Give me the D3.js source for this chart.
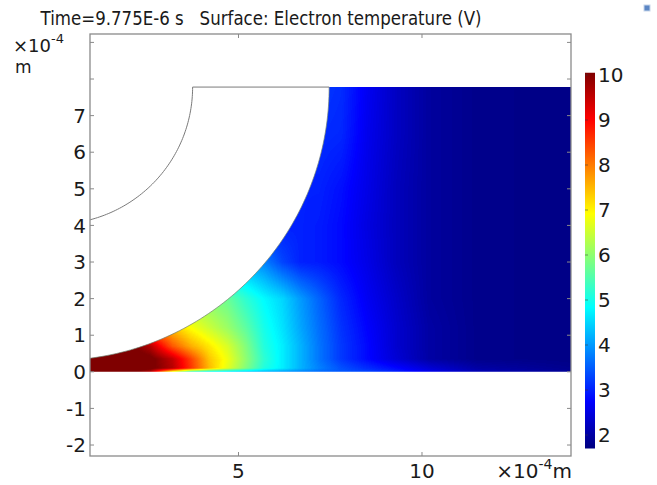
<!DOCTYPE html>
<html>
<head>
<meta charset="utf-8">
<script src="https://cdn.jsdelivr.net/npm/d3@7"></script>
<style>
  body { margin: 0; background: #fff; }
  text { font-family: "DejaVu Sans", sans-serif; fill: #1a1a1a; }
</style>
</head>
<body>
<svg id="chart" width="657" height="485"></svg>
<script>
// Surface values (electron temperature, V)
// grid nodes in x (1e-4 m) and y (1e-4 m)
var gridX = [0.9, 2.0, 2.6, 3.2, 3.7, 4.2, 4.7, 5.2, 5.7, 6.2, 6.7, 7.2, 7.8, 8.5, 9.3, 10.2, 11.5, 14.3];
var gridY = [0, 0.1, 0.35, 0.7, 1.2, 2.0, 3.0, 4.0, 5.0, 6.5, 7.8];

// one row per gridY value
var tempRows = [
  [10.3, 10.3, 9.6, 6.8, 5.3, 4.8, 4.6, 4.4, 4.2, 4.0, 3.8, 3.6, 3.45, 3.3, 3.0, 2.6, 2.15, 1.85],
  [10.3, 10.3, 10.2, 9.6, 8.6, 7.5, 6.7, 5.9, 5.1, 4.7, 4.2, 3.8, 3.4, 3.1, 2.8, 2.4, 2.0, 1.8],
  [10.3, 10.3, 10.2, 9.5, 8.5, 7.4, 6.8, 6.0, 5.2, 4.7, 4.2, 3.7, 3.2, 2.8, 2.4, 2.0, 1.8, 1.75],
  [10.3, 10.3, 9.6, 8.3, 7.6, 7.1, 6.6, 5.9, 5.1, 4.7, 4.2, 3.7, 3.2, 2.8, 2.35, 2.0, 1.8, 1.75],
  [10.0, 9.0, 8.0, 7.4, 6.9, 6.5, 6.1, 5.6, 5.0, 4.6, 4.1, 3.65, 3.15, 2.75, 2.35, 2.0, 1.8, 1.75],
  [6.0, 6.0, 6.0, 6.0, 6.0, 5.9, 5.7, 5.2, 4.8, 4.5, 4.0, 3.55, 3.05, 2.65, 2.3, 1.95, 1.8, 1.75],
  [4.2, 4.2, 4.2, 4.2, 4.2, 4.2, 4.2, 4.1, 3.8, 3.3, 3.0, 2.95, 2.8, 2.55, 2.2, 1.95, 1.8, 1.75],
  [3.0, 3.0, 3.0, 3.0, 3.0, 3.0, 3.0, 3.0, 3.0, 3.0, 3.0, 2.95, 2.8, 2.5, 2.2, 1.95, 1.8, 1.75],
  [3.0, 3.0, 3.0, 3.0, 3.0, 3.0, 3.0, 3.0, 3.0, 3.0, 3.0, 3.0, 2.85, 2.55, 2.2, 1.95, 1.8, 1.75],
  [3.1, 3.1, 3.1, 3.1, 3.1, 3.1, 3.1, 3.1, 3.1, 3.1, 3.1, 3.1, 3.05, 2.6, 2.25, 1.95, 1.8, 1.75],
  [3.2, 3.2, 3.2, 3.2, 3.2, 3.2, 3.2, 3.2, 3.2, 3.2, 3.2, 3.2, 3.1, 2.65, 2.25, 1.95, 1.8, 1.75]
];

// axis ticks
var xTicks = [5, 10];
var yTicks = [-2, -1, 0, 1, 2, 3, 4, 5, 6, 7, 8, 9];
var yTickLabels = [-2, -1, 0, 1, 2, 3, 4, 5, 6, 7];
var cbarTicks = [2, 3, 4, 5, 6, 7, 8, 9, 10];
var colorRange = [1.7, 10.05];
var jetColors = ["#00007f", "#0000ff", "#00ffff", "#ffff00", "#ff0000", "#7f0000"];
var jetStops = [0, 0.125, 0.375, 0.625, 0.875, 1];

// geometry (1e-4 m): arcs centred at the top-left corner
var arcCenter = [0, 7.78];
var bigRadius = 7.47;
var smallRadius = 3.75;
var domainRight = 14.3;

var titleText = "Time=9.775E-6 s\u00a0\u00a0\u00a0Surface: Electron temperature (V)";

// layout
var margin = { top: 34, right: 86, bottom: 29, left: 90 };
var width = 657 - margin.left - margin.right,
    height = 485 - margin.top - margin.bottom;

var svg = d3.select("#chart");

var x = d3.scaleLinear().domain([0.954, 14.06]).range([0, width]);
var y = d3.scaleLinear().domain([-2.30, 9.23]).range([height, 0]);

var color = d3.scaleLinear()
    .domain(jetStops.map(function(t) { return colorRange[0] + t * (colorRange[1] - colorRange[0]); }))
    .range(jetColors)
    .clamp(true);

// lookup table for fast pixel colouring
var lut = d3.range(256).map(function(i) {
  return d3.rgb(color(colorRange[0] + i / 255 * (colorRange[1] - colorRange[0])));
});

function valueAt(px, py) {
  var i = Math.max(0, Math.min(gridX.length - 2, d3.bisectRight(gridX, px) - 1));
  var j = Math.max(0, Math.min(gridY.length - 2, d3.bisectRight(gridY, py) - 1));
  var tx = Math.max(0, Math.min(1, (px - gridX[i]) / (gridX[i + 1] - gridX[i])));
  var ty = Math.max(0, Math.min(1, (py - gridY[j]) / (gridY[j + 1] - gridY[j])));
  var a = tempRows[j][i] * (1 - tx) + tempRows[j][i + 1] * tx;
  var b = tempRows[j + 1][i] * (1 - tx) + tempRows[j + 1][i + 1] * tx;
  return a * (1 - ty) + b * ty;
}

// paint the surface into a canvas
var canvas = document.createElement("canvas");
canvas.width = width;
canvas.height = height;
var ctx = canvas.getContext("2d");
var img = ctx.createImageData(width, height);
for (var r = 0; r < height; r++) {
  var vy = y.invert(r + 0.5);
  for (var c = 0; c < width; c++) {
    var v = valueAt(x.invert(c + 0.5), vy);
    var k = Math.round((v - colorRange[0]) / (colorRange[1] - colorRange[0]) * 255);
    var col = lut[Math.max(0, Math.min(255, k))];
    var o = (r * width + c) * 4;
    img.data[o] = col.r; img.data[o + 1] = col.g; img.data[o + 2] = col.b; img.data[o + 3] = 255;
  }
}
ctx.putImageData(img, 0, 0);

var defs = svg.append("defs");
defs.append("clipPath").attr("id", "frameClip")
  .append("rect").attr("width", width).attr("height", height);

function arcPoints(radius) {
  return d3.range(0, 91).map(function(a) {
    var t = a * Math.PI / 180;
    return [arcCenter[0] + radius * Math.sin(t), arcCenter[1] - radius * Math.cos(t)];
  });
}

var line = d3.line()
    .x(function(d) { return x(d[0]); })
    .y(function(d) { return y(d[1]); });

// plasma region: under the big arc, up to the top edge
var regionPts = [[arcCenter[0], 0], [domainRight, 0], [domainRight, arcCenter[1]]]
    .concat(arcPoints(bigRadius).reverse());

defs.append("clipPath").attr("id", "regionClip")
  .append("path").attr("d", line(regionPts) + "Z");

var g = svg.append("g")
    .attr("transform", "translate(" + margin.left + "," + margin.top + ")");

var plot = g.append("g").attr("clip-path", "url(#frameClip)");
plot.append("g").attr("clip-path", "url(#regionClip)")
  .append("image")
    .attr("width", width).attr("height", height)
    .attr("href", canvas.toDataURL());

// geometry edges
var edges = plot.append("g")
    .attr("fill", "none").attr("stroke", "#7a7a7a").attr("stroke-width", 1);
edges.append("path").attr("d", line(arcPoints(smallRadius).concat([[bigRadius, arcCenter[1]]])));
edges.append("path").attr("d", line(arcPoints(bigRadius)))
    .attr("stroke", "#708070").attr("stroke-width", 0.7);

// frame and ticks
g.append("rect")
    .attr("width", width).attr("height", height)
    .attr("fill", "none").attr("stroke", "#8a8a8a").attr("stroke-width", 1.3);

var tickLen = 4;
g.selectAll(".ytickL").data(yTicks).enter().append("line")
    .attr("x1", 0).attr("x2", tickLen)
    .attr("y1", function(d) { return y(d); }).attr("y2", function(d) { return y(d); })
    .attr("stroke", "#8a8a8a");
g.selectAll(".ytickR").data(yTicks).enter().append("line")
    .attr("x1", width - tickLen).attr("x2", width)
    .attr("y1", function(d) { return y(d); }).attr("y2", function(d) { return y(d); })
    .attr("stroke", "#8a8a8a");
g.selectAll(".xtickB").data(xTicks).enter().append("line")
    .attr("x1", function(d) { return x(d); }).attr("x2", function(d) { return x(d); })
    .attr("y1", height - tickLen).attr("y2", height)
    .attr("stroke", "#8a8a8a");
g.selectAll(".xtickT").data(xTicks).enter().append("line")
    .attr("x1", function(d) { return x(d); }).attr("x2", function(d) { return x(d); })
    .attr("y1", 0).attr("y2", tickLen)
    .attr("stroke", "#8a8a8a");

// tick labels
g.selectAll(".ylab").data(yTickLabels).enter().append("text")
    .attr("x", -4).attr("y", function(d) { return y(d); })
    .attr("dy", "0.36em")
    .attr("text-anchor", "end")
    .style("font-size", "20px")
    .text(function(d) { return d; });
g.selectAll(".xlab").data(xTicks).enter().append("text")
    .attr("x", function(d) { return x(d); }).attr("y", height + 22)
    .attr("text-anchor", "middle")
    .style("font-size", "20px")
    .text(function(d) { return d; });

// unit labels
var unitTop = svg.append("text").attr("x", 13).attr("y", 52).style("font-size", "18px");
unitTop.append("tspan").text("\u00d710");
unitTop.append("tspan").attr("dy", -9).style("font-size", "13px").text("-4");
svg.append("text").attr("x", 15).attr("y", 73).style("font-size", "17px").text("m");

var unitBot = svg.append("text").attr("x", 572).attr("y", 478)
    .attr("text-anchor", "end").style("font-size", "20px");
unitBot.append("tspan").text("\u00d710");
unitBot.append("tspan").attr("dy", -9).style("font-size", "14px").text("-4");
unitBot.append("tspan").attr("dy", 9).text("m");

// title
svg.append("text")
    .attr("x", 261).attr("y", 25)
    .attr("text-anchor", "middle")
    .attr("textLength", 441)
    .attr("lengthAdjust", "spacingAndGlyphs")
    .style("font-size", "20px")
    .text(titleText);

// colour legend
var cbX = 585, cbW = 10;
var cb = d3.scaleLinear().domain([10, 2]).range([75, 435]);
var grad = defs.append("linearGradient").attr("id", "jetGrad")
    .attr("x1", 0).attr("y1", 1).attr("x2", 0).attr("y2", 0);
jetStops.forEach(function(t, i) {
  grad.append("stop").attr("offset", t).attr("stop-color", jetColors[i]);
});
svg.append("rect")
    .attr("x", cbX).attr("y", cb(colorRange[1]))
    .attr("width", cbW).attr("height", cb(colorRange[0]) - cb(colorRange[1]))
    .attr("fill", "url(#jetGrad)");
svg.selectAll(".cbtick").data(cbarTicks).enter().append("line")
    .attr("x1", cbX).attr("x2", cbX + 3)
    .attr("y1", function(d) { return cb(d); }).attr("y2", function(d) { return cb(d); })
    .attr("stroke", "#333").attr("stroke-opacity", 0.5);
svg.selectAll(".cblab").data(cbarTicks).enter().append("text")
    .attr("x", cbX + cbW + 3).attr("y", function(d) { return cb(d); })
    .attr("dy", "0.36em")
    .style("font-size", "20px")
    .text(function(d) { return d; });

// small toolbar icon in the corner
svg.append("rect").attr("x", 644).attr("y", 5).attr("width", 6).attr("height", 6)
    .attr("fill", "#5b86c4").attr("stroke", "#c7d6ea");
</script>
</body>
</html>
